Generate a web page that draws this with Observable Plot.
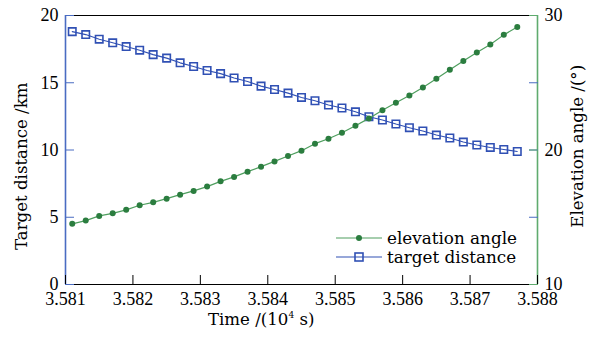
<!DOCTYPE html>
<html><head><meta charset="utf-8">
<script src="https://cdn.jsdelivr.net/npm/d3@7"></script>
<script src="https://cdn.jsdelivr.net/npm/@observablehq/plot@0.6"></script>
<style>
body{margin:0;background:#fff;}
#wrap{position:relative;width:598px;height:338px;}
.lab{position:absolute;font-family:'DejaVu Serif','Liberation Serif','Times New Roman',serif;font-size:16.6px;color:#000;white-space:nowrap;line-height:1;}
#legend{position:absolute;left:336px;top:229px;font-family:'DejaVu Serif','Liberation Serif','Times New Roman',serif;font-size:16.8px;line-height:18.7px;}
#legend .row{display:flex;align-items:center;height:18.7px;}
#legend svg{margin-right:5px;}
svg text{font-family:'Liberation Serif','Times New Roman','DejaVu Serif',serif;}
</style></head><body><div id="wrap"></div>
<script>
const timeTicks = [3.581, 3.582, 3.583, 3.584, 3.585, 3.586, 3.587, 3.588];
const distTicks = [0, 5, 10, 15, 20];
const elevTicks = [10, 20, 30];
const times = [3.5811,3.5813,3.5815,3.5817,3.5819,3.5821,3.5823,3.5825,3.5827,3.5829,3.5831,3.5833,3.5835,3.5837,3.5839,3.5841,3.5843,3.5845,3.5847,3.5849,3.5851,3.5853,3.5855,3.5857,3.5859,3.5861,3.5863,3.5865,3.5867,3.5869,3.5871,3.5873,3.5875,3.5877];
const distance = [18.80,18.58,18.24,17.97,17.69,17.42,17.09,16.83,16.48,16.21,15.91,15.68,15.35,15.09,14.75,14.50,14.23,13.91,13.66,13.34,13.12,12.84,12.47,12.23,11.93,11.66,11.41,11.11,10.89,10.59,10.37,10.19,10.04,9.89];
const elevation = [14.51,14.75,15.10,15.29,15.55,15.89,16.11,16.38,16.68,16.96,17.28,17.67,18.00,18.39,18.76,19.15,19.55,19.95,20.47,20.84,21.28,21.80,22.35,22.95,23.51,24.05,24.65,25.29,25.96,26.61,27.25,27.84,28.56,29.15];

const BLUE = "#3050b4", BLUE_AX = "#4a6cc2", GREEN_DOT = "#2b7d3f", GREEN_LINE = "#4e9e5e", GREEN_AX = "#5fab6e";
const dDom = [distTicks[0], distTicks[distTicks.length-1]];
const eDom = [elevTicks[0], elevTicks[elevTicks.length-1]];
const e2d = e => dDom[0] + (e - eDom[0]) * (dDom[1]-dDom[0]) / (eDom[1]-eDom[0]);
const d2e = d => eDom[0] + (d - dDom[0]) * (eDom[1]-eDom[0]) / (dDom[1]-dDom[0]);
const rows = times.map((t, i) => ({t, d: distance[i], e: e2d(elevation[i])}));
const xDom = [timeTicks[0], timeTicks[timeTicks.length-1]];
const none = () => "";

const plot = Plot.plot({
  width: 598, height: 338,
  marginLeft: 65, marginRight: 61, marginTop: 15, marginBottom: 54,
  style: {fontFamily: "'Liberation Serif','Times New Roman','DejaVu Serif',serif", fontSize: "18px", color: "#000", background: "#fff", overflow: "visible"},
  x: {domain: xDom},
  y: {domain: dDom},
  marks: [
    Plot.line(rows, {x: "t", y: "d", stroke: BLUE, strokeWidth: 1.1}),
    Plot.dot(rows, {x: "t", y: "d", symbol: "square", r: 4.2, stroke: BLUE, strokeWidth: 1.6, fill: "none"}),
    Plot.line(rows, {x: "t", y: "e", stroke: GREEN_LINE, strokeWidth: 1.2}),
    Plot.dot(rows, {x: "t", y: "e", r: 3, fill: GREEN_DOT, stroke: "none"}),
    Plot.ruleY([dDom[0]], {stroke: "#000", strokeWidth: 1.2}),
    Plot.ruleY([dDom[1]], {stroke: "#000", strokeWidth: 1.2}),
    Plot.ruleX([xDom[0]], {stroke: BLUE_AX, strokeWidth: 1.6}),
    Plot.ruleX([xDom[1]], {stroke: GREEN_AX, strokeWidth: 1.6}),
    Plot.axisX(timeTicks, {anchor: "bottom", tickSize: 0, tickPadding: 8, tickFormat: d3.format(".3f"), label: null}),
    Plot.axisX(timeTicks, {anchor: "bottom", tickSize: -9, tickFormat: none, label: null, stroke: "#000"}),
    Plot.axisY(distTicks, {anchor: "left", tickSize: 0, tickPadding: 7, label: null}),
    Plot.axisY(distTicks, {anchor: "left", tickSize: -9, tickFormat: none, label: null, stroke: BLUE_AX}),
    Plot.axisY(distTicks, {anchor: "right", tickSize: -9, tickFormat: none, label: null, stroke: BLUE_AX}),
    Plot.axisY(elevTicks.map(e2d), {anchor: "right", tickSize: -9, tickFormat: none, label: null, stroke: GREEN_AX}),
    Plot.axisY(elevTicks.map(e2d), {anchor: "right", tickSize: 0, tickPadding: 7, tickFormat: d => String(Math.round(d2e(d))), label: null})
  ]
});
const wrap = document.getElementById("wrap");
wrap.appendChild(plot);

function addLabel(text, cx, cy, rot) {
  const el = document.createElement("div");
  el.className = "lab";
  el.innerHTML = text;
  wrap.appendChild(el);
  const w = el.offsetWidth, h = el.offsetHeight;
  el.style.left = (cx - w/2) + "px";
  el.style.top = (cy - h/2) + "px";
  if (rot) el.style.transform = `rotate(${rot}deg)`;
}
addLabel("Time /(10<sup style=\"font-size:9px;vertical-align:7px\">4</sup> s)", 261, 320, 0);
addLabel("Target distance /km", 22, 166, -90);
addLabel("Elevation angle /(°)", 578, 146, -90);

const legend = document.createElement("div");
legend.id = "legend";
const items = [
  {name: "elevation angle", color: GREEN_LINE, mark: `<circle cx="23" cy="8" r="3" fill="${GREEN_DOT}"/>`},
  {name: "target distance", color: BLUE, mark: `<rect x="19" y="4" width="8" height="8" fill="none" stroke="${BLUE}" stroke-width="1.6"/>`}
];
for (const it of items) {
  const row = document.createElement("div");
  row.className = "row";
  row.innerHTML = `<svg width="46" height="16"><line x1="0" x2="46" y1="8" y2="8" stroke="${it.color}" stroke-width="1.2"/>${it.mark}</svg><span>${it.name}</span>`;
  legend.appendChild(row);
}
wrap.appendChild(legend);
</script>
</body></html>
